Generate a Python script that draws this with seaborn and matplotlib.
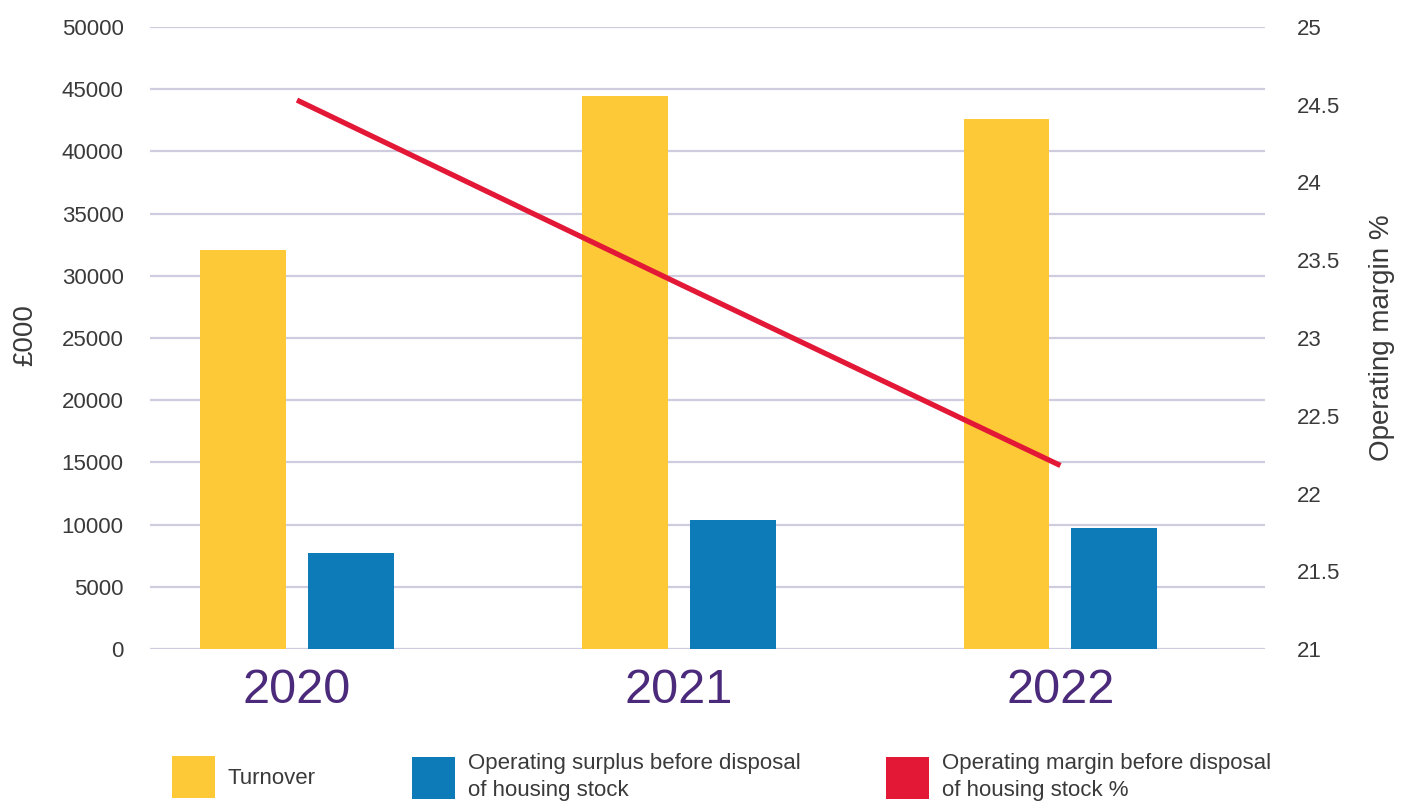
import matplotlib
matplotlib.use("Agg")
import matplotlib.pyplot as plt
import numpy as np
import pandas as pd
import seaborn as sns
from matplotlib.patches import Patch

# ---- data ----
years = ["2020", "2021", "2022"]
turnover = [32100, 44450, 42600]
surplus = [7700, 10370, 9730]
margin = [24.53, 23.35, 22.18]
series_names = ["Turnover", "Operating surplus before disposal\nof housing stock"]
margin_name = "Operating margin before disposal\nof housing stock %"
left_ticks = [0, 5000, 10000, 15000, 20000, 25000, 30000, 35000, 40000, 45000, 50000]
right_ticks = [21, 21.5, 22, 22.5, 23, 23.5, 24, 24.5, 25]
right_tick_labels = ["21", "21.5", "22", "22.5", "23", "23.5", "24", "24.5", "25"]
left_label = "£000"
right_label = "Operating margin %"

# ---- style ----
YELLOW = "#FDC936"
BLUE = "#0C7BB8"
RED = "#E31837"
PURPLE = "#4B2A7B"
GRID = "#D0CCE0"
TXT = "#3A3A3A"

sns.set_theme(style="white")
plt.rcParams['font.family'] = ['Liberation Sans', 'DejaVu Sans']

W, H = 1410, 802
fig = plt.figure(figsize=(W / 100, H / 100), dpi=100)
ax = fig.add_axes([150 / W, (H - 649) / H, 1115 / W, 622 / H])

df = pd.DataFrame({
    "Year": years * 2,
    "Series": [series_names[0]] * len(years) + [series_names[1]] * len(years),
    "Value": turnover + surplus,
})
sns.barplot(data=df, x="Year", y="Value", hue="Series",
            palette=[YELLOW, BLUE], width=0.565, gap=0.204,
            saturation=1, legend=False, ax=ax, errorbar=None,
            linewidth=0, edgecolor="none")

ax.set_ylim(0, 50000)
ax.set_yticks(left_ticks)
ax.set_yticklabels([str(t) for t in left_ticks])
ax.yaxis.grid(True, color=GRID, lw=1.6)
ax.xaxis.grid(False)
ax.set_axisbelow(True)
for s in ax.spines.values():
    s.set_visible(False)
ax.tick_params(axis="y", length=0, pad=19, labelsize=16, labelcolor=TXT)
ax.tick_params(axis="x", length=0, pad=14, labelsize=35, labelcolor=PURPLE)
ax.set_xlabel("")
ax.set_ylabel(left_label, fontsize=20, color=TXT)
ax.yaxis.set_label_coords(-0.112, 0.505)
ax.yaxis.label.set_va("center")
ax.yaxis.label.set_ha("center")

ax2 = ax.twinx()
sns.lineplot(x=[0, 1, 2], y=margin, ax=ax2, color=RED, lw=3.8,
             solid_capstyle="butt")
ax2.set_ylim(21, 25)
ax2.set_yticks(right_ticks)
ax2.set_yticklabels(right_tick_labels)
ax2.tick_params(axis="y", length=0, pad=23, labelsize=16, labelcolor=TXT)
for s in ax2.spines.values():
    s.set_visible(False)
ax2.grid(False)
ax2.set_ylabel(right_label, fontsize=20, color=TXT)
ax2.yaxis.set_label_coords((1382 - 150) / 1115, 0.5)
ax2.yaxis.label.set_va("center")
ax2.yaxis.label.set_ha("center")

ax.set_xlim(-0.385, 2.536)

# ---- legend: three separate entries ----
entries = [
    (series_names[0], YELLOW, 172),
    (series_names[1], BLUE, 412),
    (margin_name, RED, 886),
]
for label, col, xpix in entries:
    leg = fig.legend(handles=[Patch(facecolor=col, edgecolor="none", label=label)],
                     loc="center left", bbox_to_anchor=(xpix / W, 1 - 777 / H),
                     frameon=False, fontsize=16, handlelength=1.95, handleheight=2.55,
                     handletextpad=0.55, borderpad=0, borderaxespad=0,
                     labelcolor=TXT)
    for t in leg.get_texts():
        t.set_linespacing(1.35)

fig.savefig("out.png", dpi=100)
